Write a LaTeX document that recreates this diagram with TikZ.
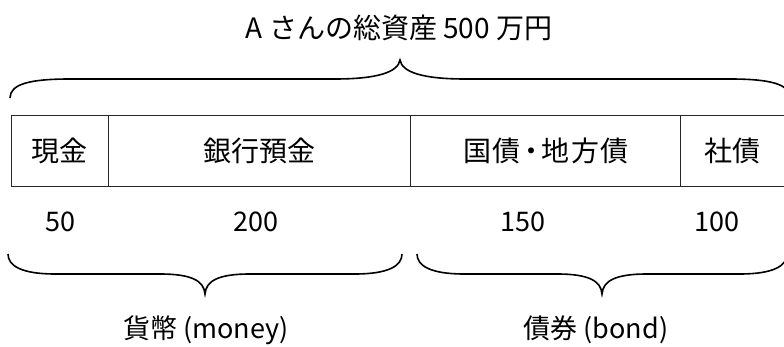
\documentclass[tikz,border=0pt]{standalone}
\usepackage{fontspec}
\setmainfont{Noto Sans CJK JP}
\newfontfamily\jp{Noto Sans CJK JP}
\begin{document}
\begin{tikzpicture}[x=1pt,y=-1pt,
  cell/.style={draw=black!85,line width=1.2pt,rectangle,minimum height=71pt,inner sep=0pt,anchor=north west},
  lbl/.style={inner sep=0pt,font=\jp\fontsize{28}{32}\selectfont},
  sub/.style={inner sep=0pt,font=\jp\fontsize{27}{30}\selectfont},
  num/.style={inner sep=0pt,font=\jp\fontsize{27}{30}\selectfont},
  brace/.style={draw=black,line width=1.6pt}]
\useasboundingbox (0,0) rectangle (784,347);
% title
\node[lbl] (title) at (399,28) {A さんの総資産 500 万円};
% cells
\node[cell,minimum width=97pt] (c1) at (11,115) {};
\node[cell,minimum width=302pt] (c2) at (108,115) {};
\node[cell,minimum width=270pt] (c3) at (410,115) {};
\node[cell,minimum width=110pt] (c4) at (680,115) {};
\node[lbl] (t1) at (59.5,151) {現金};
\node[lbl] (t2) at (259,151) {銀行預金};
\node[lbl] (t3) at (546,151) {国\kern2pt 債\kern-4pt ・\kern-4pt 地\kern2pt 方\kern2pt 債};
\node[lbl] (t4) at (732,151) {社債};
% numbers
\node[num] (n1) at (60,222) {50};
\node[num] (n2) at (256,222) {200};
\node[num] (n3) at (523,222) {150};
\node[num] (n4) at (717,222) {100};
% bottom labels
\node[sub] (money) at (206,330) {貨幣\kern6pt(money)};
\node[sub] (bond) at (596,330) {債券\kern6pt(bond)};
% top brace
\coordinate (tbL) at (10,98);
\coordinate (tbT) at (400,60);
\coordinate (tbR) at (790,98);
\draw[brace] (tbL) .. controls (10,84) and (30,79) .. (70,79) -- (335,79)
  .. controls (378,79) and (398,72) .. (tbT)
  .. controls (402,72) and (422,79) .. (465,79) -- (730,79)
  .. controls (770,79) and (790,84) .. (tbR);
% bottom left brace
\coordinate (blL) at (8,254);
\coordinate (blT) at (205,294);
\coordinate (blR) at (402,254);
\draw[brace] (blL) .. controls (8,266) and (22,274) .. (55,274) -- (160,274)
  .. controls (192,274) and (204,281) .. (blT)
  .. controls (206,281) and (218,274) .. (250,274) -- (355,274)
  .. controls (388,274) and (402,266) .. (blR);
% bottom right brace
\coordinate (brL) at (417,254);
\coordinate (brT) at (602,294);
\coordinate (brR) at (787,254);
\draw[brace] (brL) .. controls (417,266) and (431,274) .. (464,274) -- (557,274)
  .. controls (589,274) and (601,281) .. (brT)
  .. controls (603,281) and (615,274) .. (647,274) -- (740,274)
  .. controls (773,274) and (787,266) .. (brR);
\end{tikzpicture}
\end{document}
